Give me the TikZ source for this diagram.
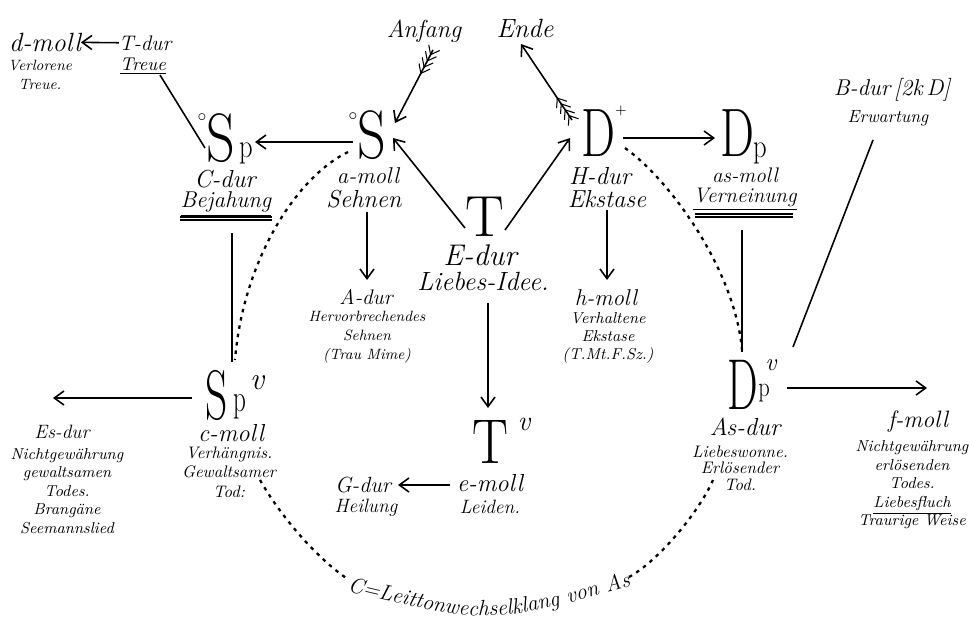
\documentclass[tikz,border=0pt]{standalone}
\usepackage{fontspec}
\usetikzlibrary{arrows.meta,decorations.markings,decorations.text}
% one pair of feather strokes, drawn in the local frame of a marking
\newcommand\fthr{\draw[-,line width=0.6pt] (0,0) -- (-4.5pt,3.5pt) (0,0) -- (-4.5pt,-3.5pt);}
\begin{document}
\begin{tikzpicture}[x=0.02cm,y=-0.02cm,
  every node/.style={inner sep=0pt,outer sep=0pt},
  sym/.style={font=\fontsize{#1}{#1}\selectfont},
  hand/.style={font=\itshape\fontsize{#1}{#1}\selectfont},
  blk/.style 2 args={align=center,font=\itshape\fontsize{#1}{#2}\selectfont},
  ring/.style={font=\fontsize{10}{10}\selectfont},
  ln/.style={line width=0.9pt},
  arr/.style={line width=0.9pt,-{Straight Barb[length=5.5pt,width=8pt]}},
  dotline/.style={line width=1.3pt,dash pattern=on 2pt off 2.8pt},
  fletch/.style={postaction={decorate},decoration={markings,
      mark=at position 3pt with {\fthr},
      mark=at position 7pt with {\fthr},
      mark=at position 11pt with {\fthr},
      mark=at position 15pt with {\fthr}}},
  dbl/.style={line width=0.6pt}
]
\useasboundingbox (0,0) rectangle (969,635);

% ---- words at the top
\node[hand=14] (anf) at (424,31) {Anfang};
\node[hand=15] (ende) at (525,28) {Ende};

% ---- function symbols
\node[sym=39] (S1) at (372,135) {\scalebox{0.82}[1]{S}};
\node[ring] (S1o) at (353,117) {$\circ$};
\node[sym=39] (Sp) at (221,138) {\scalebox{0.82}[1]{S}};
\node[sym=19] (Spp) at (246,153) {\scalebox{0.8}[1]{p}};
\node[ring] (Spo) at (202,118) {$\circ$};
\node[sym=39] (D1) at (598,133) {\scalebox{0.7}[1]{D}};
\node[sym=8] (D1plus) at (621,111) {+};
\node[sym=39] (Dp) at (737,133) {\scalebox{0.7}[1]{D}};
\node[sym=19] (Dpp) at (760,153) {\scalebox{0.8}[1]{p}};
\node[sym=33] (T1) at (485,217) {T};
\node[sym=36] (Tv) at (490,442) {\scalebox{0.85}[1]{T}};
\node[hand=16] (Tvv) at (524,424) {v};
\node[sym=40] (Spv) at (217,395) {\scalebox{0.62}[1]{S}};
\node[sym=22] (Spvp) at (240,407) {\scalebox{0.65}[1]{p}};
\node[hand=18] (Spvv) at (257,383) {v};
\node[sym=41] (Dpv) at (743,385) {\scalebox{0.6}[1]{D}};
\node[sym=16] (Dpvp) at (764,393) {\scalebox{0.8}[1]{p}};
\node[hand=14] (Dpvv) at (771,365) {v};

% ---- keys and characters
\node[hand=15] (dmoll) at (45,42) {d-moll};
\node[blk={8.5}{11}] (verl) at (40,75) {Verlorene\\Treue.};
\node[hand=12] (tdur) at (145,43) {T-dur};
\node[hand=10.5] (treue) at (143,66) {\underline{Treue}};

\node[hand=14] (cdur) at (225,179) {C-dur};
\node[hand=13] (bej) at (226,204) {\underline{Bejahung}};
\node[hand=13] (amoll) at (368,176) {a-moll};
\node[hand=14] (sehnen) at (364,199) {Sehnen};
\node[hand=14] (hdur) at (600,176) {H-dur};
\node[hand=14] (ekst) at (607,199) {Ekstase};
\node[hand=12] (asmoll) at (745,175) {as-moll};
\node[hand=12] (vern) at (745,199) {\underline{Verneinung}};

\node[hand=17] (edur) at (480,255) {E-dur};
\node[hand=15] (liebes) at (483,281) {Liebes-Idee.};

\node[hand=12] (adur) at (366,297) {A-dur};
\node[blk={8.5}{11}] (adesc) at (367,337) {Hervorbrechendes\\Sehnen\\(Trau Mime)};
\node[hand=13] (hmoll) at (606,298) {h-moll};
\node[blk={9}{10.5}] (hdesc) at (608,338) {Verhaltene\\Ekstase\\(T.Mt.F.Sz.)};

\node[hand=14] (emoll) at (490,483) {e-moll};
\node[hand=11] (leiden) at (490,507) {Leiden.};
\node[hand=12.5] (gdur) at (363,485) {G-dur};
\node[hand=11] (heil) at (366,508) {Heilung};

\node[hand=14] (cmoll) at (231,433) {c-moll};
\node[blk={9.5}{11}] (cdesc) at (229,472) {Verhängnis.\\Gewaltsamer\\Tod:};
\node[hand=11] (esdur) at (62,432) {Es-dur};
\node[blk={9}{10.5}] (esdesc) at (67,491) {Nichtgewährung\\gewaltsamen\\Todes.\\Brangäne\\Seemannslied};

\node[hand=14] (asdur) at (745,427) {As-dur};
\node[blk={9.5}{9.5}] (asdesc) at (740,468) {Liebeswonne.\\Erlösender\\Tod.};
\node[hand=13.5] (fmoll) at (918,422) {f-moll};
\node[blk={9}{10.5}] (fdesc) at (912,485) {Nichtgewährung\\erlösenden\\Todes.\\\underline{Liebesfluch}\\Traurige Weise};

\node[hand=13] (bdur) at (892,90) {B-dur\,[2k\,D]};
\node[hand=10] (erw) at (888,118) {Erwartung};

% ---- double rules under the two key words
\draw[dbl] ([shift={(-46,13)}]bej.center) -- ([shift={(46,13)}]bej.center);
\draw[dbl] ([shift={(-46,16)}]bej.center) -- ([shift={(46,16)}]bej.center);
\draw[dbl] ([shift={(-50,15)}]vern.center) -- ([shift={(48,15)}]vern.center);
\draw[dbl] ([shift={(-50,18)}]vern.center) -- ([shift={(48,18)}]vern.center);

% ---- connectors
\draw[arr] (tdur) -- (dmoll);
\draw[ln] ([shift={(17,9)}]treue.center) -- ([shift={(-16,10)}]Sp.center);
\draw[arr] ([shift={(-19,7)}]S1.center) -- ([shift={(34,4)}]Sp.center);
\draw[ln] ([shift={(6,29)}]bej.center) -- ([shift={(15,-33)}]Spv.center);
\draw[arr,fletch] ([shift={(9,19)}]anf.center) -- ([shift={(23,-12)}]S1.center);
\draw[arr,fletch] ([shift={(-26,-13)}]D1.center) -- ([shift={(-4,16)}]ende.center);
\draw[arr] ([shift={(-20,11)}]T1.center) -- ([shift={(21,3)}]S1.center);
\draw[arr] ([shift={(20,13)}]T1.center) -- ([shift={(-28,5)}]D1.center);
\draw[arr] ([shift={(25,5)}]D1.center) -- ([shift={(-22,5)}]Dp.center);
\draw[ln] ([shift={(-3,31)}]vern.center) -- ([shift={(-1,-33)}]Dpv.center);
\draw[arr] ([shift={(0,11)}]ekst.center) -- ([shift={(1,-18)}]hmoll.center);
\draw[arr] ([shift={(3,13)}]sehnen.center) -- ([shift={(1,-17)}]adur.center);
\draw[arr] ([shift={(5,22)}]liebes.center) -- ([shift={(-2,-34)}]Tv.center);
\draw[arr] ([shift={(-40,2)}]emoll.center) -- ([shift={(35,0)}]gdur.center);
\draw[arr] ([shift={(-25,3)}]Spv.center) -- ([shift={(-9,-34)}]esdur.center);
\draw[arr] ([shift={(44,3)}]Dpv.center) -- ([shift={(9,-34)}]fmoll.center);
\draw[ln] ([shift={(50,-38)}]Dpv.center) -- ([shift={(-15,22)}]erw.center);

% ---- the dotted circle of the leading-tone exchange
\coordinate (arcL) at (349,580);
\coordinate (arcR) at (629,577);
\coordinate (tl) at (346,591);
\coordinate (tr) at (632,586);
\draw[dotline] ([shift={(-24,17)}]S1.center) .. controls (295,178) and (243,262) .. ([shift={(18,-35)}]Spv.center);
\draw[dotline] ([shift={(27,15)}]D1.center) .. controls (670,180) and (735,270) .. ([shift={(-1,-35)}]Dpv.center);
\draw[dotline] ([shift={(31,8)}]cdesc.center) .. controls (280,515) and (315,557) .. (arcL);
\draw[dotline] (arcR) .. controls (660,560) and (700,510) .. ([shift={(-27,12)}]asdesc.center);
\path[decorate,decoration={text along path,text align=center,
  text={|\itshape\fontsize{12.5}{12.5}\selectfont|C=Leittonwechselklang von As}}]
  (tl) .. controls (488,625) .. (tr);
\end{tikzpicture}
\end{document}
